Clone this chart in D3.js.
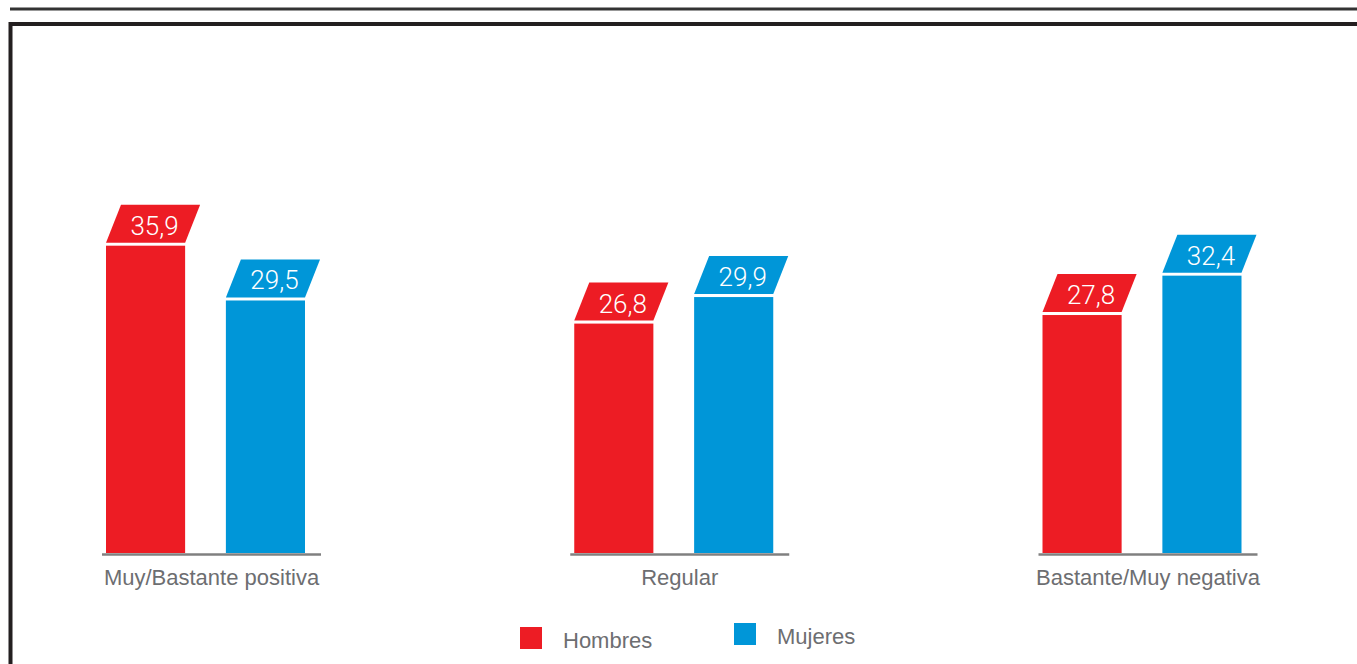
<!DOCTYPE html>
<html>
<head>
<meta charset="utf-8">
<script src="https://cdn.jsdelivr.net/npm/d3@7"></script>
<style>
  html, body { margin: 0; padding: 0; background: #fff; overflow: hidden; }
  svg { display: block; }
</style>
</head>
<body>
<script>
var categories = ['Muy/Bastante positiva', 'Regular', 'Bastante/Muy negativa'];
var series = ['Hombres', 'Mujeres'];
var hombres = [35.9, 26.8, 27.8];
var mujeres = [29.5, 29.9, 32.4];
var colors = ['#ed1c24', '#0096d8'];

var w = 1357,
    h = 664;

var svg = d3.select('body').append('svg')
  .attr('width', w)
  .attr('height', h);

// frame lines
svg.append('line')
  .attr('x1', 10).attr('x2', w).attr('y1', 9).attr('y2', 9)
  .attr('stroke', '#333').attr('stroke-width', 3);
svg.append('path')
  .attr('d', 'M10.5,' + h + 'V24H' + w)
  .attr('fill', 'none')
  .attr('stroke', '#231f20').attr('stroke-width', 4);

var base = 554;
var x0 = d3.scalePoint().domain(categories).range([211.5, 1148]);
var x1 = d3.scaleBand().domain(series).range([-105.5, 93.5]).paddingInner(0.34);
var y = d3.scaleLinear().domain([0, 40]).range([base - 1, base - 1 - 40 * 8.56]);

var data = [];
categories.forEach(function(c, i) {
  data.push({ cat: c, s: series[0], v: hombres[i], color: colors[0] });
  data.push({ cat: c, s: series[1], v: mujeres[i], color: colors[1] });
});

var fmt = function(v) { return d3.format('.1f')(v).replace('.', ','); };

var groups = svg.append('g').selectAll('.group')
  .data(categories)
  .enter()
  .append('g')
    .attr('transform', function(d) { return 'translate(' + x0(d) + ',0)'; });

groups.append('line')
  .attr('x1', -109.5).attr('x2', 109.5)
  .attr('y1', base + 0.5).attr('y2', base + 0.5)
  .attr('stroke', '#808080').attr('stroke-width', 2.5);

groups.append('text')
  .text(function(d) { return d; })
  .attr('x', 0)
  .attr('y', 585)
  .attr('text-anchor', 'middle')
  .attr('font-family', 'Liberation Sans, Arial, sans-serif')
  .attr('font-size', 22)
  .attr('fill', '#6d6e71');

var bars = svg.append('g').selectAll('.bar')
  .data(data)
  .enter()
  .append('g')
    .attr('transform', function(d) { return 'translate(' + (x0(d.cat) + x1(d.s)) + ',0)'; });

bars.append('rect')
  .attr('x', 0)
  .attr('y', function(d) { return y(d.v); })
  .attr('width', x1.bandwidth())
  .attr('height', function(d) { return y(0) - y(d.v); })
  .attr('fill', function(d) { return d.color; });

// slanted value tags
var bw = x1.bandwidth();
bars.append('path')
  .attr('d', function(d) {
    var b = y(d.v) - 3, t = b - 38;
    return 'M0,' + b + 'L' + bw + ',' + b + 'L' + (bw + 15) + ',' + t + 'L15,' + t + 'Z';
  })
  .attr('fill', function(d) { return d.color; });

bars.append('text')
  .text(function(d) { return fmt(d.v); })
  .attr('x', bw / 2 + 9)
  .attr('y', function(d) { return y(d.v) - 11; })
  .attr('text-anchor', 'middle')
  .attr('font-family', 'Roboto, sans-serif')
  .attr('font-weight', 300)
  .attr('font-size', 26)
  .attr('fill', '#fff');

// legend
var legend = svg.append('g').selectAll('.legend')
  .data([
    { s: series[0], color: colors[0], x: 520, y: 627 },
    { s: series[1], color: colors[1], x: 734, y: 623 }
  ])
  .enter()
  .append('g')
    .attr('transform', function(d) { return 'translate(' + d.x + ',' + d.y + ')'; });

legend.append('rect')
  .attr('width', 22).attr('height', 22)
  .attr('fill', function(d) { return d.color; });

legend.append('text')
  .text(function(d) { return d.s; })
  .attr('x', 43)
  .attr('y', 21)
  .attr('font-family', 'Liberation Sans, Arial, sans-serif')
  .attr('font-size', 22)
  .attr('fill', '#6d6e71');
</script>
</body>
</html>
